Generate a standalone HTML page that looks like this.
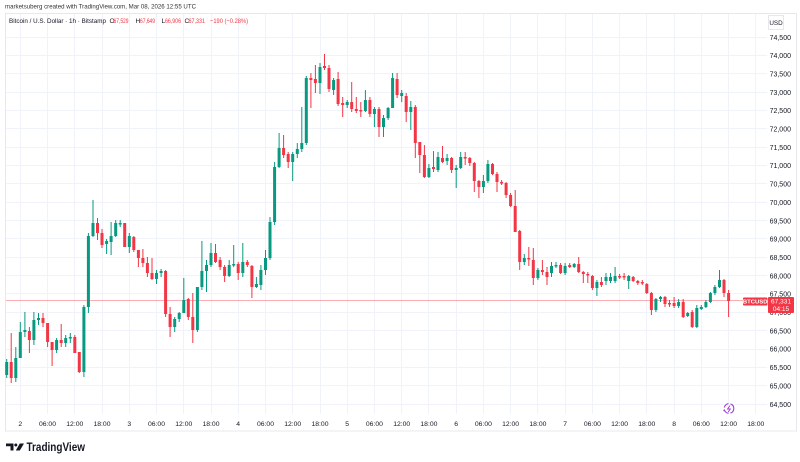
<!DOCTYPE html>
<html><head><meta charset="utf-8"><style>
html,body{margin:0;padding:0;background:#fff;}
svg{display:block;font-family:"Liberation Sans",sans-serif;}
</style></head><body>
<svg width="800" height="462" viewBox="0 0 800 462" xmlns="http://www.w3.org/2000/svg">
<rect width="800" height="462" fill="#fff"/>
<text x="5" y="8.5" font-size="6.6" fill="#333" textLength="191" lengthAdjust="spacingAndGlyphs">marketsuberg created with TradingView.com, Mar 08, 2026 12:55 UTC</text>
<rect x="5.5" y="13.5" width="791" height="417.5" fill="none" stroke="#e6e8ee"/>
<!-- grid -->
<g stroke="#f0f3fa" stroke-width="1">
<path d="M6 37.5H767M6 55.5H767M6 73.5H767M6 92.5H767M6 110.5H767M6 128.5H767M6 147.5H767M6 165.5H767M6 183.5H767M6 202.5H767M6 220.5H767M6 238.5H767M6 257.5H767M6 275.5H767M6 293.5H767M6 312.5H767M6 330.5H767M6 349.5H767M6 367.5H767M6 385.5H767M6 404.5H767"/>
<path d="M20.5 14V414M47.5 14V414M74.5 14V414M102.5 14V414M129.5 14V414M156.5 14V414M183.5 14V414M211.5 14V414M238.5 14V414M265.5 14V414M292.5 14V414M320.5 14V414M347.5 14V414M374.5 14V414M401.5 14V414M428.5 14V414M456.5 14V414M483.5 14V414M510.5 14V414M537.5 14V414M565.5 14V414M592.5 14V414M619.5 14V414M646.5 14V414M674.5 14V414M701.5 14V414M728.5 14V414M755.5 14V414"/>
</g>
<!-- legend -->
<g font-size="6.6" fill="#131722">
<text x="9" y="23" textLength="97" lengthAdjust="spacingAndGlyphs">Bitcoin / U.S. Dollar · 1h · Bitstamp</text>
<text x="109.5" y="23">O</text>
<text x="113.5" y="23" fill="#f23645" textLength="15" lengthAdjust="spacingAndGlyphs">67,529</text>
<text x="135.5" y="23">H</text>
<text x="140" y="23" fill="#f23645" textLength="15" lengthAdjust="spacingAndGlyphs">67,649</text>
<text x="161.5" y="23">L</text>
<text x="165" y="23" fill="#f23645" textLength="16" lengthAdjust="spacingAndGlyphs">66,906</text>
<text x="184.5" y="23">C</text>
<text x="188.5" y="23" fill="#f23645" textLength="16.5" lengthAdjust="spacingAndGlyphs">67,331</text>
<text x="210" y="23" fill="#f23645" textLength="38" lengthAdjust="spacingAndGlyphs">−190 (−0.28%)</text>
</g>
<!-- USD box -->
<rect x="768.5" y="15.5" width="15" height="14" fill="#fff" stroke="#e6e8ee"/>
<text x="776" y="25" font-size="6.3" fill="#131722" text-anchor="middle">USD</text>
<!-- price labels -->
<g font-size="7" fill="#131722" text-anchor="end">
<text x="791" y="39.8">74,500</text>
<text x="791" y="58.1">74,000</text>
<text x="791" y="76.5">73,500</text>
<text x="791" y="94.8">73,000</text>
<text x="791" y="113.2">72,500</text>
<text x="791" y="131.5">72,000</text>
<text x="791" y="149.9">71,500</text>
<text x="791" y="168.2">71,000</text>
<text x="791" y="186.6">70,500</text>
<text x="791" y="204.9">70,000</text>
<text x="791" y="223.3">69,500</text>
<text x="791" y="241.6">69,000</text>
<text x="791" y="260">68,500</text>
<text x="791" y="278.3">68,000</text>
<text x="791" y="296.7">67,500</text>
<text x="791" y="315">67,000</text>
<text x="791" y="333.4">66,500</text>
<text x="791" y="351.7">66,000</text>
<text x="791" y="370.1">65,500</text>
<text x="791" y="388.4">65,000</text>
<text x="791" y="406.8">64,500</text>
</g>
<!-- time labels -->
<g font-size="6.8" fill="#131722" text-anchor="middle">
<text x="20.3" y="426">2</text>
<text x="47.5" y="426">06:00</text>
<text x="74.8" y="426">12:00</text>
<text x="102" y="426">18:00</text>
<text x="129.3" y="426">3</text>
<text x="156.5" y="426">06:00</text>
<text x="183.8" y="426">12:00</text>
<text x="211" y="426">18:00</text>
<text x="238.2" y="426">4</text>
<text x="265.5" y="426">06:00</text>
<text x="292.7" y="426">12:00</text>
<text x="320" y="426">18:00</text>
<text x="347.2" y="426">5</text>
<text x="374.4" y="426">06:00</text>
<text x="401.7" y="426">12:00</text>
<text x="428.9" y="426">18:00</text>
<text x="456.2" y="426">6</text>
<text x="483.4" y="426">06:00</text>
<text x="510.6" y="426">12:00</text>
<text x="537.9" y="426">18:00</text>
<text x="565.1" y="426">7</text>
<text x="592.4" y="426">06:00</text>
<text x="619.6" y="426">12:00</text>
<text x="646.8" y="426">18:00</text>
<text x="674.1" y="426">8</text>
<text x="701.3" y="426">06:00</text>
<text x="728.6" y="426">12:00</text>
<text x="755.8" y="426">18:00</text>
</g>
<!-- price line -->
<path d="M6 300.5H743" stroke="#f23645" stroke-opacity="0.4" stroke-width="1"/>
<!-- green candles -->
<g stroke="#089981" fill="none">
<path stroke-width="1" d="M6.7 359V378M15.8 347V382M20.3 322V358M24.9 312V337M33.9 312V345M38.5 313V325M56.6 338V353M65.7 335V347M70.3 333V343M83.9 305V377M88.4 233V313M93 200V237M106.6 239V254M111.1 222V255M115.7 220V237M120.2 220V227M129.3 233V253M156.5 270V284M161.1 269V277M174.7 317V332M179.2 312V322M183.8 278V313M197.4 287V332M201.9 241V290M206.5 260V292M211 243V267M229.2 260V277M233.7 245V267M242.8 243V277M256.4 277V288M260.9 265V290M265.5 250V275M270 217V260M274.6 162V225M279.1 133V168M292.7 152V181M297.3 143V158M301.8 107V152M306.3 76V145M320 63V94M333.6 78V95M347.2 100V108M365.4 90V112M374.4 107V127M383.5 115V137M388.1 107V120M392.6 73V108M401.7 90V102M410.8 101V130M428.9 164V178M438 152V172M447.1 154V165M456.2 165V188M460.7 152V169M483.4 175V193M487.9 160V183M524.3 254V265M537.9 268V280M551.5 262V277M556 262V268M565.1 263V275M574.2 263V268M596.9 280V296M606 273V285M610.5 273V283M615.1 267V283M628.7 275V289M655.9 298V312M660.5 296V302M678.6 299V308M687.7 312V317M696.8 305V328M701.3 305V310M705.9 300V308M710.4 292V303M714.9 285V295M719.5 270V288"/>
<path stroke-width="3" d="M6.7 362V375M15.8 358V378M20.3 332V358M24.9 330V332M33.9 320V340M38.5 318V320M56.6 340V350M65.7 338V343M70.3 337V338.5M83.9 307V372M88.4 236V307M93 223V236M106.6 241V244M111.1 236V242M115.7 223V236M120.2 223V224.5M129.3 236V247M156.5 273V279M161.1 271V273M174.7 319V327M179.2 313V319M183.8 300V313M197.4 287V330M201.9 271V287M206.5 265V271M211 253V265M229.2 265V276M233.7 264V265.5M242.8 262V273M256.4 284V287M260.9 270V285M265.5 258V270M270 222V258M274.6 167V222M279.1 148V167M292.7 154V162M297.3 149V154M301.8 143V149M306.3 78V143M320 67V83M333.6 80V90M347.2 102V105M365.4 100V111M374.4 109V114M383.5 118V127M388.1 108V118M392.6 78V108M401.7 93V96M410.8 107V112M428.9 168V177M438 157V170M447.1 158V161M456.2 168V170M460.7 157V168M483.4 181V187M487.9 164V181M524.3 258V262M537.9 270V278M551.5 266V273M556 265V266.5M565.1 266V273M574.2 264V267M596.9 282V288M606 277V281M610.5 277V281M615.1 276V281M628.7 276V281M655.9 299V310M660.5 297V299M678.6 302V306M687.7 313V316M696.8 308V327M701.3 307V309M705.9 302V307M710.4 293V302M714.9 287V293M719.5 280V287"/>
</g>
<!-- red candles -->
<g stroke="#f23645" fill="none">
<path stroke-width="1" d="M11.2 333V383M29.4 327V353M43 313V327M47.6 323V347M52.1 342V366M61.2 324V347M74.8 335V353M79.3 352V373M97.5 218V240M102 229V248M124.7 223V247M133.8 236V252M138.4 250V267M142.9 249V267M147.4 257V277M152 258V280M165.6 270V317M170.1 307V337M188.3 298V320M192.8 293V343M215.5 244V263M220.1 257V270M224.6 265V282M238.2 262V280M247.3 260V267M251.9 265V298M283.6 135V158M288.2 152V168M310.9 73V108M315.4 65V93M324.5 54V70M329 65V92M338.1 72V106M342.7 97V117M351.7 82V112M356.3 97V113M360.8 102V117M369.9 97V117M379 107V137M397.1 73V98M406.2 93V122M415.3 105V158M419.8 142V173M424.4 145V178M433.5 151V172M442.5 146V163M451.6 157V173M465.2 152V165M469.8 157V166M474.3 162V192M478.9 180V198M492.5 163V175M497 172V192M501.6 180V185M506.1 182V198M510.6 193V207M515.2 190V232M519.7 230V270M528.8 247V266M533.3 248V285M542.4 260V275M547 267V285M560.6 263V274M569.7 263V268M578.7 257V273M583.3 271V283M587.8 272V283M592.4 275V290M601.4 277V287M619.6 274V279M624.1 273V280M633.2 276V282M637.8 280V285M642.3 280V285M646.8 283V294M651.4 292V315M665 296V307M669.5 300V307M674.1 297V308M683.2 299V318M692.2 310V328M724 279V297M728.6 290V317"/>
<path stroke-width="3" d="M11.2 362V378M29.4 331V340M43 318V323M47.6 323V342M52.1 342V350M61.2 340V343M74.8 337V353M79.3 352V372M97.5 223V233M102 233V245M124.7 223V247M133.8 237V250M138.4 250V258M142.9 258V263M147.4 263V273M152 273V279M165.6 271V314M170.1 314V327M188.3 299V317M192.8 317V330M215.5 253V262M220.1 260V267M224.6 267V276M238.2 264V273M247.3 262V265M251.9 266V287M283.6 148V155M288.2 154V162M310.9 78V80M315.4 79V83M324.5 66V68M329 68V89M338.1 79V104M342.7 103V105M351.7 102V109M356.3 109V111M360.8 110V111.5M369.9 100V114M379 109V127M397.1 79V95M406.2 96V112M415.3 107V143M419.8 142V155M424.4 155V177M433.5 167V169M442.5 158V162M451.6 158V170M465.2 157V158.5M469.8 158V163M474.3 163V181M478.9 181V187M492.5 164V174M497 174V182M501.6 182V183.5M506.1 183V195M510.6 195V206M515.2 206V232M519.7 231V262M528.8 258V259.5M533.3 260V278M542.4 270V272M547 272V277M560.6 265V273M569.7 265V267M578.7 264V272M583.3 272V274M587.8 274V275.5M592.4 276V288M601.4 282V285M619.6 276V277.5M624.1 276V277.5M633.2 277V281M637.8 281V283M642.3 282V283.5M646.8 284V293M651.4 293V310M665 297V304M669.5 303V304.5M674.1 303V306M683.2 302V317M692.2 312V327M724 280V293M728.6 293V301"/>
</g>
<!-- last price labels -->
<rect x="743" y="297.5" width="24.5" height="8" rx="1" fill="#f23645"/>
<text x="755.2" y="303.7" font-size="5.9" font-weight="bold" fill="#fff" text-anchor="middle">BTCUSD</text>
<rect x="768" y="297" width="26" height="16" rx="1" fill="#f23645"/>
<text x="781" y="303.6" font-size="6.5" fill="#fff" text-anchor="middle">67,331</text>
<text x="781" y="311" font-size="6.5" fill="#fff" text-anchor="middle">04:15</text>
<!-- purple icon -->
<circle cx="729" cy="408.5" r="4.8" fill="#fff" stroke="#9c3fd6" stroke-width="1.1" stroke-dasharray="6 2"/>
<path d="M730 405.5L727.6 409H730.2L728.2 412" stroke="#9c3fd6" stroke-width="1" fill="none"/>
<circle cx="724.2" cy="410.5" r="0.9" fill="#9c3fd6"/>
<!-- TradingView logo -->
<g fill="#131722">
<path d="M6 443.5H13.5V450.5H10.5V446.3H6Z"/>
<circle cx="15.8" cy="445" r="1.5"/>
<path d="M19.8 443.5H24L19.8 450.5H15.8Z"/>
</g>
<text x="26.5" y="451" font-size="12.3" font-weight="bold" fill="#131722" textLength="58.5" lengthAdjust="spacingAndGlyphs">TradingView</text>
</svg>
</body></html>
